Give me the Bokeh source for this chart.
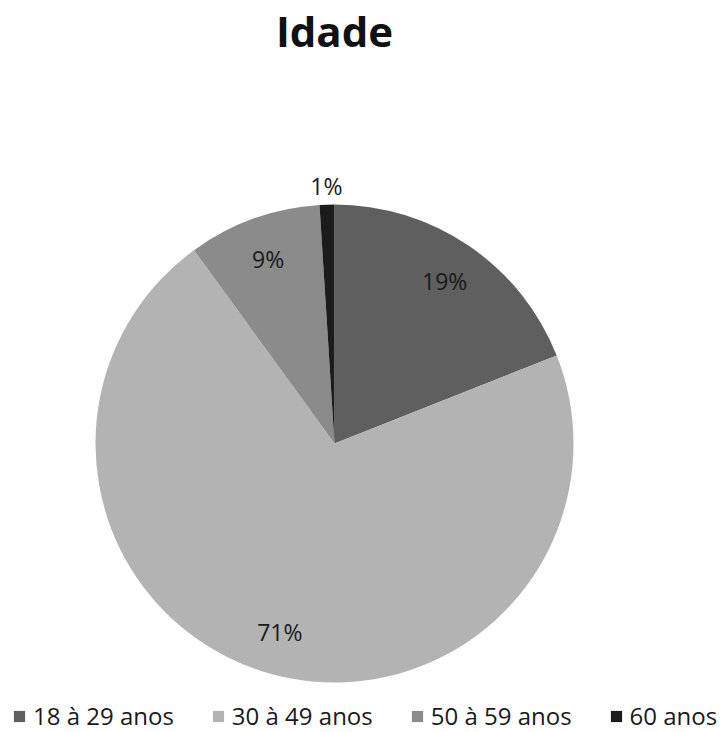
import numpy as np
from bokeh.plotting import figure
from bokeh.models import ColumnDataSource, Legend, LegendItem, Range1d
from bokeh.core.properties import value
from bokeh.embed import file_html
from bokeh.resources import INLINE

# Age distribution
title_text = "Idade"
categories = ["18 à 29 anos", "30 à 49 anos", "50 à 59 anos", "60 anos"]
shares = [19, 71, 9, 1]
colors = ["#5f5f5f", "#b3b3b3", "#8b8b8b", "#1c1c1c"]

W, H = 728, 732
FONT = "Open Sans"

# Pie geometry (canvas units, origin at bottom-left)
cx, cy, R = 334, 289, 239

frac = np.array(shares, dtype=float) / sum(shares)
cum = np.concatenate([[0.0], np.cumsum(frac)])
start = np.pi / 2 - 2 * np.pi * cum[:-1]
end = np.pi / 2 - 2 * np.pi * cum[1:]
mid = (start + end) / 2

# small slices get their label just outside the rim
label_r = np.where(frac < 0.03, R * 1.08, R * 0.82)
lx = cx + label_r * np.cos(mid)
ly = cy + label_r * np.sin(mid)

src = ColumnDataSource(dict(
    start=start, end=end, color=colors, cat=categories,
    lx=lx, ly=ly, txt=[f"{s}%" for s in shares],
))

p = figure(width=W, height=H, x_range=Range1d(0, W), y_range=Range1d(0, H),
           x_axis_location=None, y_axis_location=None, toolbar_location=None,
           min_border=0, output_backend="svg")
p.outline_line_color = None
p.grid.visible = False
p.background_fill_color = "white"
p.border_fill_color = "white"

pie = p.wedge(x=cx, y=cy, radius=R, start_angle="start", end_angle="end",
              direction="clock", fill_color="color", line_color=None, source=src)

p.text(x="lx", y="ly", text="txt", source=src, text_font=value(FONT),
       text_font_size="23px", text_color="#1a1a1a",
       text_align="center", text_baseline="middle")

p.text(x=[334], y=[H - 30], text=[title_text], text_font=value(FONT),
       text_font_size="42px", text_font_style="bold", text_color="#111111",
       text_align="center", text_baseline="middle")

legend = Legend(
    items=[LegendItem(label=c, renderers=[pie], index=i) for i, c in enumerate(categories)],
    orientation="horizontal", location=(12, 0),
    glyph_width=14, glyph_height=14, label_standoff=7, spacing=37,
    label_text_font=FONT, label_text_font_size="24px", label_text_color="#1a1a1a",
    padding=2, margin=0, border_line_color=None, background_fill_alpha=0,
)
p.add_layout(legend)

open("out.html", "w").write(file_html(p, INLINE))
